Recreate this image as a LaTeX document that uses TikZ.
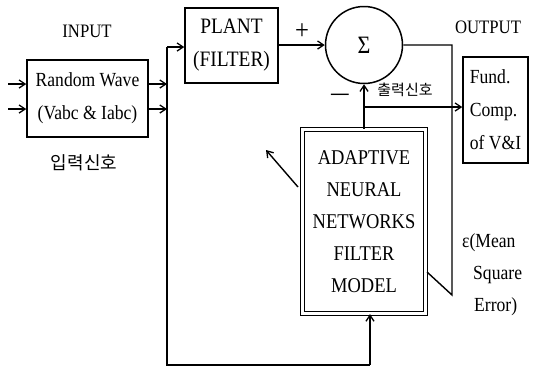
\documentclass[tikz,border=0pt]{standalone}
\usepackage{fontspec}
\setmainfont{Liberation Serif}[FakeStretch=0.88]
\newfontfamily\kr{Noto Sans CJK KR}
\usetikzlibrary{arrows.meta}
\begin{document}
\begin{tikzpicture}[x=1pt,y=-1pt,
  box/.style={draw, line width=1.5pt, inner sep=0pt, align=center},
  ln/.style={line width=1.4pt},
  arr/.style={ln, -{Straight Barb[length=6pt,width=8pt,line width=1.3pt]}},
  lbl/.style={inner sep=0pt},
  bigtxt/.style={font=\fontsize{20}{33}\selectfont},
]
\useasboundingbox (0,0) rectangle (542,367);

% blocks
\node[box, bigtxt, minimum width=121pt, minimum height=77pt] (rw) at (87.5,98.5) {Random Wave\\(Vabc \& Iabc)};
\node[box, font=\fontsize{22}{33}\selectfont, minimum width=93pt, minimum height=75pt] (plant) at (231.5,45.5) {PLANT\\(FILTER)};
\node[draw, circle, line width=1.5pt, minimum size=77pt, inner sep=0pt, font=\fontsize{25}{25}\selectfont] (sum) at (364,45) {Σ};
\node[box, bigtxt, align=left, minimum width=65pt, minimum height=106pt] (fund) at (495.5,110) {Fund.\\Comp.\\of V\&I};
\node[box, double, double distance=3pt, line width=1.2pt, font=\fontsize{21}{32}\selectfont, minimum width=123pt, minimum height=184pt] (ann) at (364,221.5) {ADAPTIVE\\NEURAL\\NETWORKS\\FILTER\\MODEL};

% labels
\node[lbl, font=\fontsize{19}{20}\selectfont] (tin) at (87,31) {INPUT};
\node[lbl, font=\fontsize{19}{20}\selectfont] (tout) at (488,27) {OUTPUT};
\node[lbl, font=\kr\fontsize{18}{20}\selectfont] (kin) at (84,163) {입력신호};
\node[lbl, font=\kr\fontsize{15}{18}\selectfont] (kout) at (405,90) {출력신호};
\node[lbl, font=\fontsize{28}{28}\selectfont] (plus) at (302,32) {+};
\node[lbl, font=\bfseries\fontsize{20}{20}\selectfont] (minus) at (340,97) {—};
\node[lbl, anchor=west, bigtxt] (e1) at (462,243) {ε(Mean};
\node[lbl, anchor=west, bigtxt] (e2) at (473,275) {Square};
\node[lbl, anchor=west, bigtxt] (e3) at (474,307) {Error)};

% coordinates
\coordinate (in1) at (8,84);
\coordinate (in2) at (8,109);
\coordinate (bus) at (167,84);
\coordinate (busTop) at (167,47);
\coordinate (busBot) at (167,365);
\coordinate (fbx) at (370,365);
\coordinate (er) at (452,295);
\coordinate (eb) at (427,272);
\coordinate (br) at (364,107);
\coordinate (da1) at (298,187);
\coordinate (da2) at (266,150);

% connectors
\draw[arr] (in1) -- (in1 -| rw.west);
\draw[arr] (in2) -- (in2 -| rw.west);
\draw[arr] (rw.east |- in1) -- (bus |- in1);
\draw[arr] (rw.east |- in2) -- (bus |- in2);
\draw[arr] (busTop) -- (busTop -| plant.west);
\draw[ln] (busTop) -- (busBot) -- (fbx);
\draw[arr] (fbx) -- (fbx |- ann.south);
\draw[arr] (plant.east |- sum.west) -- (sum.west);
\draw[ln] (sum.east) -| (er) -- (eb);
\draw[arr] (ann.north) -- (sum.south);
\draw[arr] (br) -- (br -| fund.west);
\draw[arr] (da1) -- (da2);
\end{tikzpicture}
\end{document}
